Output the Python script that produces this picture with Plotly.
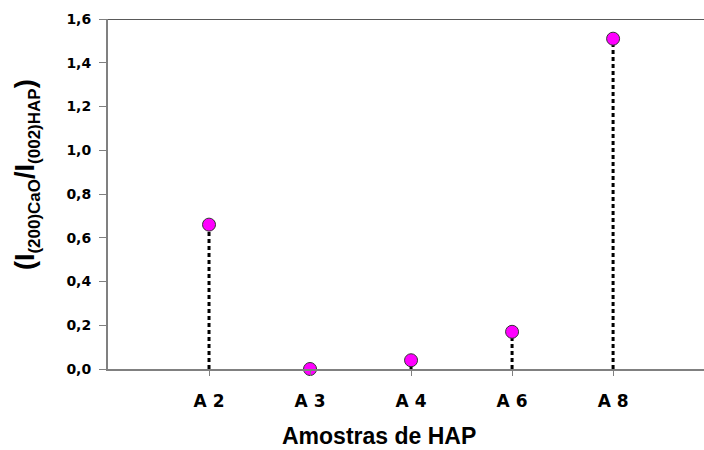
import plotly.graph_objects as go

samples = ["A 2", "A 3", "A 4", "A 6", "A 8"]
positions = [1, 2, 3, 4, 5]
ratios = [0.66, 0.0, 0.04, 0.17, 1.51]
y_ticks = [0.0, 0.2, 0.4, 0.6, 0.8, 1.0, 1.2, 1.4, 1.6]

TICKFONT = "DejaVu Sans, Liberation Sans, Arial, sans-serif"
TITLEFONT = "Liberation Sans, Arial, sans-serif"

fig = go.Figure()

for xp, v in zip(positions, ratios):
    if v > 0.01:
        fig.add_trace(go.Scatter(
            x=[xp, xp], y=[0, v], mode="lines",
            line=dict(color="black", width=3, dash="4px,3px"),
            showlegend=False, hoverinfo="skip"))

fig.add_trace(go.Scatter(
    x=positions, y=ratios, mode="markers",
    marker=dict(color="#FF00FF", size=13, line=dict(color="#333333", width=1)),
    showlegend=False, cliponaxis=False))

fig.add_shape(type="line", xref="paper", yref="y", x0=-0.011, x1=1, y0=1.6, y1=1.6,
              line=dict(color="#222222", width=1.5), layer="below")

fig.add_annotation(
    text="Amostras de HAP", xref="paper", yref="paper", x=0.455, y=0,
    xanchor="center", yanchor="middle", yshift=-67, showarrow=False,
    font=dict(size=23, family=TITLEFONT, weight="bold", color="black"))

fig.add_annotation(
    text="(I<sub><span style=\"font-size:17px\">(200)CaO</span></sub>/I<sub><span style=\"font-size:17px\">(002)HAP</span></sub>)",
    xref="paper", yref="paper", x=0, y=0.554, xshift=-81,
    xanchor="center", yanchor="middle", textangle=-90, showarrow=False,
    font=dict(size=27, family=TITLEFONT, weight="bold", color="black"))

fig.update_layout(
    width=704, height=450,
    margin=dict(l=108, r=0, t=19, b=81),
    paper_bgcolor="white", plot_bgcolor="white",
    separators=",.",
    font=dict(family=TICKFONT, color="black"),
    xaxis=dict(
        range=[0, 5.9], tickvals=positions, ticktext=samples,
        showgrid=False, zeroline=False,
        showline=True, linecolor="#808080", linewidth=2,
        ticks="outside", ticklen=5, tickcolor="#808080", tickwidth=1,
        ticklabelstandoff=11,
        tickfont=dict(size=17, family=TICKFONT, weight="bold"),
        automargin=False,
    ),
    yaxis=dict(
        range=[0, 1.6], tickvals=y_ticks, tickformat=".1f",
        showgrid=False, zeroline=False,
        showline=True, linecolor="#808080", linewidth=2,
        ticks="outside", ticklen=7, tickcolor="#808080", tickwidth=1,
        ticklabelstandoff=5,
        tickfont=dict(size=14, family=TICKFONT, weight="bold"),
        automargin=False,
    ),
)

fig.write_html(
    "out.html",
    config={"displayModeBar": False},
    post_script="document.body.style.margin='0';document.body.style.overflow='hidden';",
)
